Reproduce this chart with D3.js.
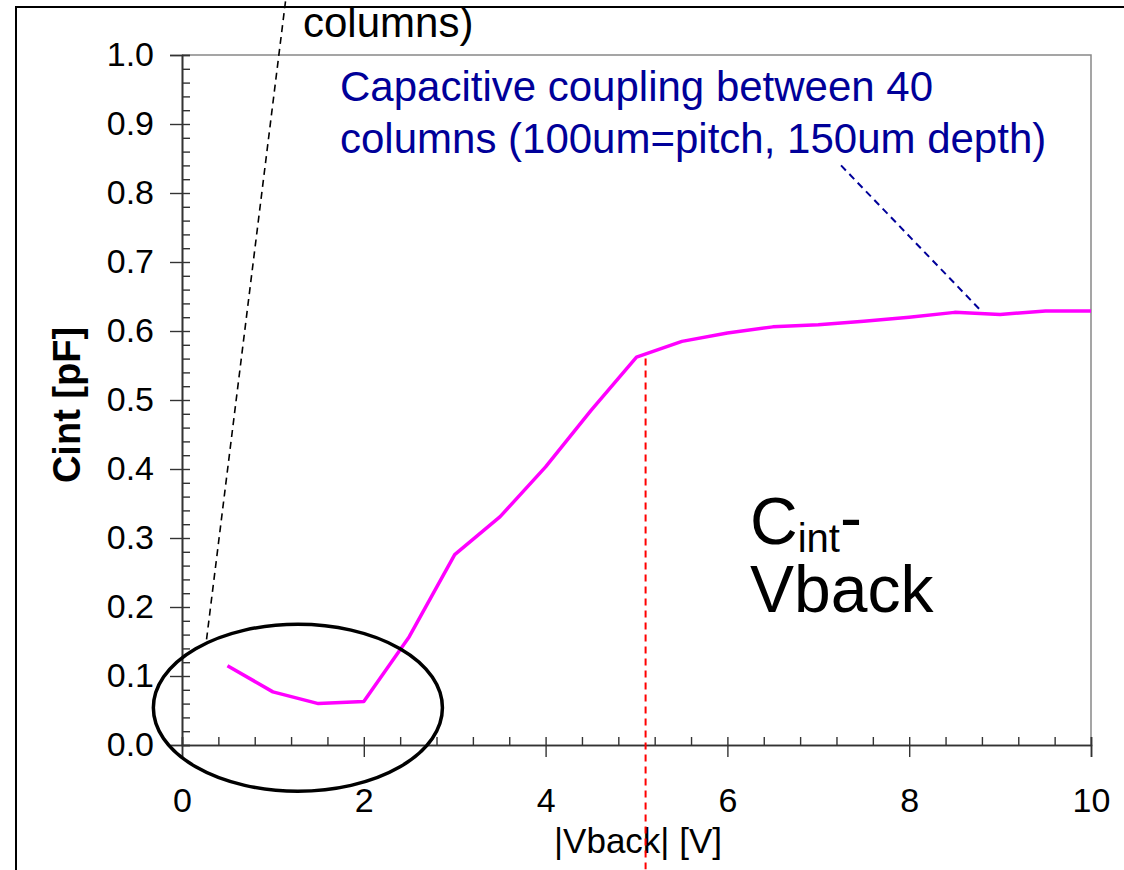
<!DOCTYPE html>
<html>
<head>
<meta charset="utf-8">
<script src="https://cdn.jsdelivr.net/npm/d3@7"></script>
<style>
  body { margin: 0; background: #fff; }
  text { font-family: "Liberation Sans", Arial, sans-serif; }
</style>
</head>
<body>
<script>
// Cint vs |Vback| values
var vback = [0.5, 1, 1.5, 2, 2.5, 3, 3.5, 4, 4.5, 5, 5.5, 6, 6.5, 7, 7.5, 8, 8.5, 9, 9.5, 10];
var cint  = [0.115, 0.077, 0.060, 0.063, 0.157, 0.276, 0.331, 0.403, 0.485, 0.562,
             0.585, 0.597, 0.606, 0.609, 0.614, 0.620, 0.627, 0.624, 0.629, 0.629];

var xTicks = [0, 2, 4, 6, 8, 10];
var yTicks = [0, 0.1, 0.2, 0.3, 0.4, 0.5, 0.6, 0.7, 0.8, 0.9, 1.0];
var xMinorStep = 0.4, yMinorStep = 0.02;

// annotation helpers (data units)
var redMarker   = [[5.1, 0.56], [5.1, -0.18]];
var blueLeader  = [[7.25, 0.84], [8.8, 0.628]];
var blackLeader = [[0.27, 0.153], [1.15, 1.09]];
var lowCircle   = {cx: 1.275, cy: 0.054, rx: 1.59, ry: 0.121};

var width = 1124, height = 870;

var svg = d3.select("body").append("svg")
    .attr("width", width)
    .attr("height", height);

var x = d3.scaleLinear().domain([0, 10]).range([182, 1091]);
var y = d3.scaleLinear().domain([0, 1]).range([745, 55]);

// outer frame of the slide chart
svg.append("path")
    .attr("d", "M16," + height + "V7H" + width)
    .attr("fill", "none")
    .attr("stroke", "#000")
    .attr("stroke-width", 2);

// plot area border (top / right, grey)
svg.append("path")
    .attr("d", "M" + x(0) + "," + y(1) + "H" + x(10) + "V" + y(0))
    .attr("fill", "none")
    .attr("stroke", "#888")
    .attr("stroke-width", 1.5);

// Y axis: labels + outer major ticks
svg.append("g")
    .attr("transform", "translate(" + x(0) + ",0)")
    .call(d3.axisLeft(y).tickValues(yTicks).tickSize(12).tickPadding(16)
        .tickFormat(d3.format(".1f")));
// minor ticks inside
svg.append("g")
    .attr("transform", "translate(" + x(0) + ",0)")
    .call(d3.axisRight(y).tickValues(d3.range(0, 1.001, yMinorStep)).tickSize(8).tickFormat(""));

// X axis
svg.append("g")
    .attr("transform", "translate(0," + y(0) + ")")
    .call(d3.axisBottom(x).tickValues(xTicks).tickSize(12).tickPadding(31)
        .tickFormat(d3.format("d")));
svg.append("g")
    .attr("transform", "translate(0," + y(0) + ")")
    .call(d3.axisTop(x).tickValues(d3.range(0, 10.01, xMinorStep)).tickSize(8).tickFormat(""));

svg.selectAll(".domain").attr("stroke", "#333").attr("stroke-width", 1.6);
svg.selectAll(".tick line").attr("stroke", "#333").attr("stroke-width", 1.4);
svg.selectAll(".tick text")
    .attr("fill", "#000")
    .style("font-family", "'Liberation Sans', Arial, sans-serif")
    .style("font-size", "34px");

// axis titles
svg.append("text")
    .attr("transform", "translate(80,405) rotate(-90)")
    .attr("text-anchor", "middle")
    .style("font-size", "38px")
    .style("font-weight", "bold")
    .text("Cint [pF]");

svg.append("text")
    .attr("x", 638)
    .attr("y", 853)
    .attr("text-anchor", "middle")
    .style("font-size", "35px")
    .text("|Vback| [V]");

var line = d3.line()
    .x(function(d, i) { return x(vback[i]); })
    .y(function(d) { return y(d); });

var seg = d3.line().x(function(d) { return x(d[0]); }).y(function(d) { return y(d[1]); });

// red dashed marker at ~5V
svg.append("path")
    .attr("d", seg(redMarker))
    .attr("stroke", "#ff0000")
    .attr("stroke-width", 2)
    .attr("stroke-dasharray", "7,5")
    .attr("fill", "none");

// data curve
svg.append("path")
    .datum(cint)
    .attr("d", line)
    .attr("fill", "none")
    .attr("stroke", "#ff00ff")
    .attr("stroke-width", 3.5)
    .attr("stroke-linejoin", "round");

// ellipse around the low voltage region
svg.append("ellipse")
    .attr("cx", x(lowCircle.cx))
    .attr("cy", y(lowCircle.cy))
    .attr("rx", x(lowCircle.rx) - x(0))
    .attr("ry", y(0) - y(lowCircle.ry))
    .attr("fill", "none")
    .attr("stroke", "#000")
    .attr("stroke-width", 3.5);

// leader lines
svg.append("path")
    .attr("d", seg(blackLeader))
    .attr("stroke", "#000")
    .attr("stroke-width", 1.6)
    .attr("stroke-dasharray", "7,5")
    .attr("fill", "none");
svg.append("path")
    .attr("d", seg(blueLeader))
    .attr("stroke", "#000099")
    .attr("stroke-width", 2)
    .attr("stroke-dasharray", "7,5")
    .attr("fill", "none");

// annotation texts
svg.append("text")
    .attr("x", 303)
    .attr("y", 37)
    .style("font-size", "42px")
    .attr("fill", "#000")
    .text("columns)");

var blue = svg.append("text")
    .attr("x", 340)
    .attr("y", 101)
    .style("font-size", "42px")
    .attr("fill", "#000099");
blue.append("tspan").text("Capacitive coupling between 40");
blue.append("tspan").attr("x", 340).attr("dy", 52).text("columns (100um=pitch, 150um depth)");

var big = svg.append("text")
    .attr("x", 750)
    .attr("y", 544)
    .style("font-size", "66px")
    .attr("fill", "#000");
big.append("tspan").text("C");
big.append("tspan").attr("dy", 8).style("font-size", "40px").text("int");
big.append("tspan").attr("dy", -12).text("-");
big.append("tspan").attr("x", 750).attr("dy", 72).text("Vback");
</script>
</body>
</html>
